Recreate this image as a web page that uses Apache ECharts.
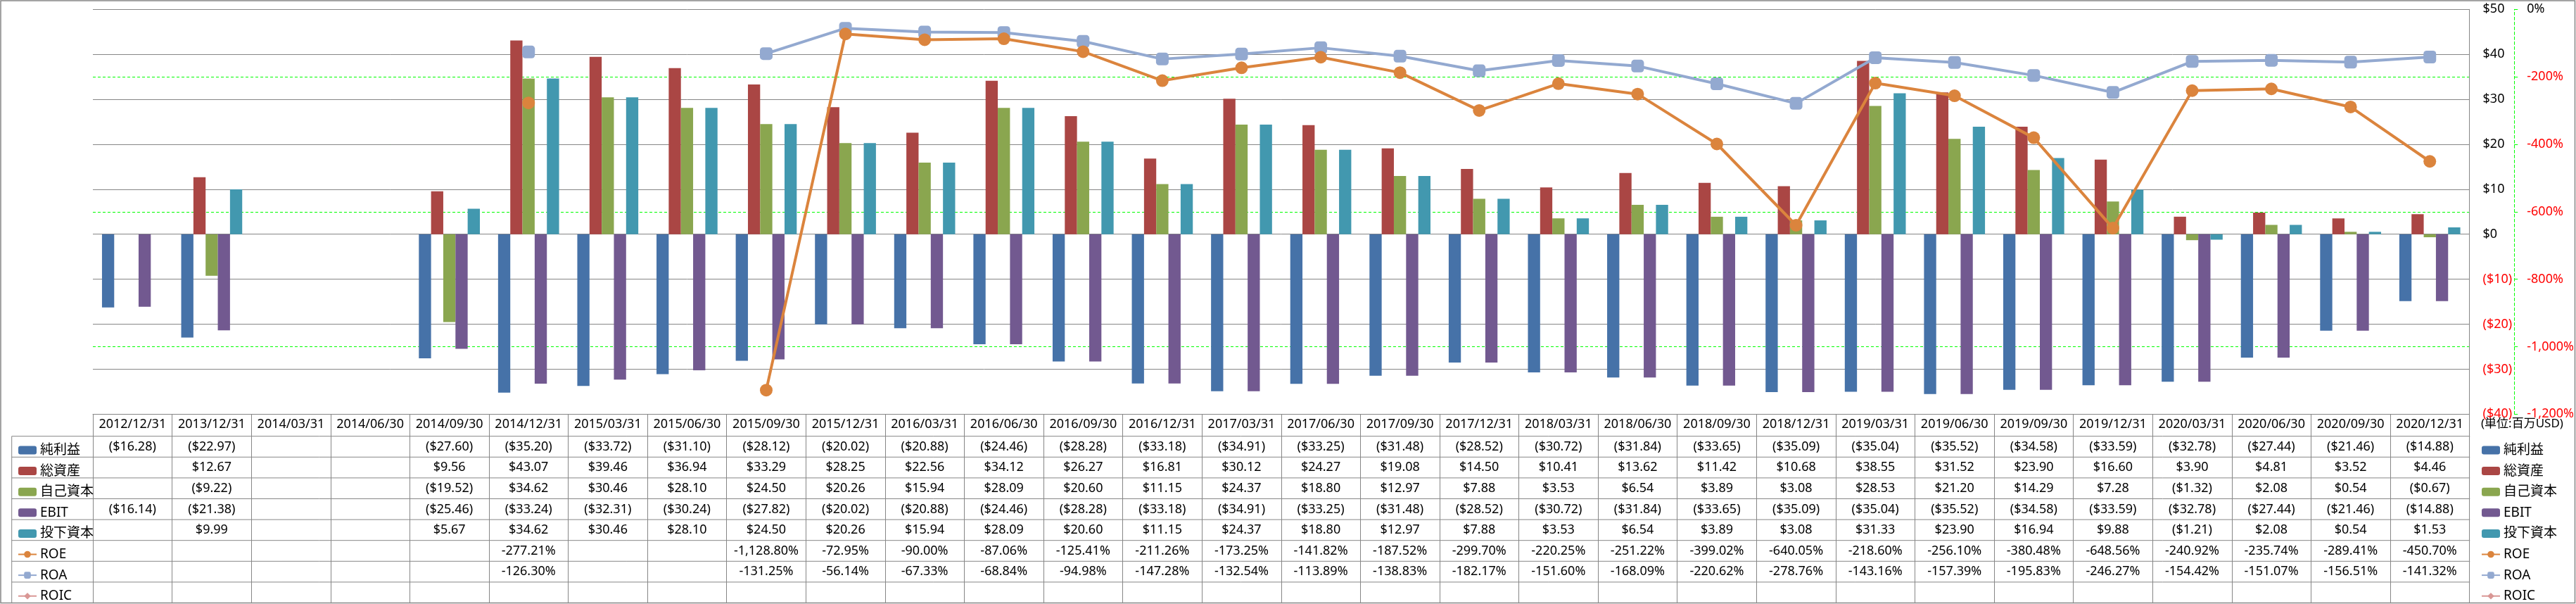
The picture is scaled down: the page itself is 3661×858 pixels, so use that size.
<!DOCTYPE html>
<html><head><meta charset="utf-8">
<script src="https://cdn.jsdelivr.net/npm/echarts@6/dist/echarts.min.js"></script>
<style>html,body{margin:0;padding:0;background:#fff}#c{width:3661px;height:858px}</style>
</head><body><div id="c"></div>
<script>
// ---------- DATA ----------
const categories = ['2012/12/31','2013/12/31','2014/03/31','2014/06/30','2014/09/30','2014/12/31','2015/03/31','2015/06/30','2015/09/30','2015/12/31','2016/03/31','2016/06/30','2016/09/30','2016/12/31','2017/03/31','2017/06/30','2017/09/30','2017/12/31','2018/03/31','2018/06/30','2018/09/30','2018/12/31','2019/03/31','2019/06/30','2019/09/30','2019/12/31','2020/03/31','2020/06/30','2020/09/30','2020/12/31'];
const netIncome = [-16.28,-22.97,null,null,-27.60,-35.20,-33.72,-31.10,-28.12,-20.02,-20.88,-24.46,-28.28,-33.18,-34.91,-33.25,-31.48,-28.52,-30.72,-31.84,-33.65,-35.09,-35.04,-35.52,-34.58,-33.59,-32.78,-27.44,-21.46,-14.88];
const totalAssets = [null,12.67,null,null,9.56,43.07,39.46,36.94,33.29,28.25,22.56,34.12,26.27,16.81,30.12,24.27,19.08,14.50,10.41,13.62,11.42,10.68,38.55,31.52,23.90,16.60,3.90,4.81,3.52,4.46];
const equity = [null,-9.22,null,null,-19.52,34.62,30.46,28.10,24.50,20.26,15.94,28.09,20.60,11.15,24.37,18.80,12.97,7.88,3.53,6.54,3.89,3.08,28.53,21.20,14.29,7.28,-1.32,2.08,0.54,-0.67];
const ebit = [-16.14,-21.38,null,null,-25.46,-33.24,-32.31,-30.24,-27.82,-20.02,-20.88,-24.46,-28.28,-33.18,-34.91,-33.25,-31.48,-28.52,-30.72,-31.84,-33.65,-35.09,-35.04,-35.52,-34.58,-33.59,-32.78,-27.44,-21.46,-14.88];
const investedCapital = [null,9.99,null,null,5.67,34.62,30.46,28.10,24.50,20.26,15.94,28.09,20.60,11.15,24.37,18.80,12.97,7.88,3.53,6.54,3.89,3.08,31.33,23.90,16.94,9.88,-1.21,2.08,0.54,1.53];
const roe = [null,null,null,null,null,-277.21,null,null,-1128.80,-72.95,-90.00,-87.06,-125.41,-211.26,-173.25,-141.82,-187.52,-299.70,-220.25,-251.22,-399.02,-640.05,-218.60,-256.10,-380.48,-648.56,-240.92,-235.74,-289.41,-450.70];
const roa = [null,null,null,null,null,-126.30,null,null,-131.25,-56.14,-67.33,-68.84,-94.98,-147.28,-132.54,-113.89,-138.83,-182.17,-151.60,-168.09,-220.62,-278.76,-143.16,-157.39,-195.83,-246.27,-154.42,-151.07,-156.51,-141.32];
const roic = categories.map(() => null);
const seriesNames = ['純利益','総資産','自己資本','EBIT','投下資本','ROE','ROA','ROIC'];
const unitLabel = '(単位:百万USD)';

// ---------- LAYOUT / STYLE ----------
const W = 3661, H = 858;
const G = {left: 132, right: 3510.3, top: 13.3, bottom: 588.3};
const HEADER_H = 31.4, ROW_H = 29.6;
const TABLE_LEFT = 16.7;
const FONT = '"Noto Sans","Noto Sans CJK JP",sans-serif';
const GRAY = '#868686';
const colors = ['#4672A8','#AA4644','#8AA64F','#725990','#4298AF','#DB843D','#93A9D0','#D99795'];

const fix2 = v => {
  const s = Math.abs(v).toFixed(2).split('.');
  s[0] = s[0].replace(/\B(?=(\d{3})+(?!\d))/g, ',');
  return s.join('.');
};
const money = v => v == null ? '' : (v < 0 ? '($' + fix2(v) + ')' : '$' + fix2(v));
const pct = v => v == null ? '' : (v < 0 ? '-' : '') + fix2(v) + '%';
const dash = arr => arr.map(v => v == null ? '-' : v);

const rows = [
  {vals: netIncome, fmt: money},
  {vals: totalAssets, fmt: money},
  {vals: equity, fmt: money},
  {vals: ebit, fmt: money},
  {vals: investedCapital, fmt: money},
  {vals: roe, fmt: pct},
  {vals: roa, fmt: pct},
  {vals: roic, fmt: pct}
];
const rowTops = rows.map((r, i) => G.bottom + HEADER_H + i * ROW_H);

const labelBase = {fontSize: 18, lineHeight: 18, color: '#000', fontFamily: FONT};

const xAxes = [{
  type: 'category', data: categories, position: 'bottom', offset: 0,
  axisLine: {show: true, onZero: false, lineStyle: {color: GRAY, width: 1}},
  axisTick: {show: true, interval: 0, length: H - 1 - G.bottom, lineStyle: {color: GRAY, width: 1}},
  axisLabel: Object.assign({interval: 0, margin: 6}, labelBase),
  splitLine: {show: false}
}];
rows.forEach((r, i) => {
  xAxes.push({
    type: 'category', data: categories, position: 'bottom', offset: rowTops[i] - G.bottom,
    axisLine: {show: false, onZero: false}, axisTick: {show: false},
    axisLabel: Object.assign({interval: 0, margin: 6, formatter: (v, idx) => r.fmt(r.vals[idx])}, labelBase),
    splitLine: {show: false}
  });
});

const legendCommon = {
  type: 'plain', orient: 'vertical', top: rowTops[0] + (ROW_H - 20) / 2, height: 300,
  itemWidth: 26, itemHeight: 12, itemGap: ROW_H - 20,
  selectedMode: false, data: seriesNames,
  textStyle: {fontSize: 19, lineHeight: 20, color: '#000', fontFamily: FONT}
};

const graphics = [
  {type: 'rect', silent: true, shape: {x: 1, y: 1, width: W - 2.5, height: H - 2.5}, style: {fill: 'none', stroke: GRAY, lineWidth: 1.5}},
  {type: 'line', silent: true, shape: {x1: TABLE_LEFT, y1: rowTops[0], x2: TABLE_LEFT, y2: H - 1}, style: {stroke: GRAY, lineWidth: 1}},
  {type: 'text', silent: true, left: 3526, top: G.bottom + 5, style: {text: unitLabel, fontSize: 17, fill: '#000', fontFamily: FONT}}
];
rowTops.forEach(y => graphics.push({type: 'line', silent: true, shape: {x1: TABLE_LEFT, y1: y, x2: G.right, y2: y}, style: {stroke: GRAY, lineWidth: 1}}));

const chart = echarts.init(document.getElementById('c'), null, {renderer: 'canvas'});
chart.setOption({
  animation: false,
  color: colors,
  textStyle: {fontFamily: FONT},
  grid: {left: G.left, right: W - G.right, top: G.top, bottom: H - G.bottom, containLabel: false},
  xAxis: xAxes,
  yAxis: [
    {
      type: 'value', position: 'right', min: -40, max: 50, interval: 10, z: 1,
      axisLine: {show: true, lineStyle: {color: GRAY, width: 1}},
      axisTick: {show: false},
      splitLine: {show: true, lineStyle: {color: GRAY, width: 1}},
      axisLabel: {margin: 19, fontSize: 18, color: '#000', fontFamily: FONT,
        formatter: v => v >= 0 ? '$' + v : '{r|($' + (-v) + ')}',
        rich: {r: {color: '#FF0000', fontSize: 18, fontFamily: FONT}}}
    },
    {
      type: 'value', position: 'right', offset: 63.7, min: -1200, max: 0, interval: 200, z: 0,
      axisLine: {show: true, lineStyle: {color: '#00FF00', width: 1, type: [4, 3]}},
      axisTick: {show: true, length: 5, lineStyle: {color: '#00FF00', width: 1}},
      splitLine: {show: true, lineStyle: {color: '#00FF00', width: 1, type: [4, 3]}},
      axisLabel: {margin: 18, fontSize: 18, color: '#000', fontFamily: FONT,
        formatter: v => v === 0 ? '0%' : '{r|-' + Math.abs(v).toLocaleString('en-US') + '%}',
        rich: {r: {color: '#FF0000', fontSize: 18, fontFamily: FONT}}}
    }
  ],
  legend: [
    Object.assign({left: 20}, legendCommon),
    Object.assign({left: 3521}, legendCommon)
  ],
  series: [
    {name: seriesNames[0], type: 'bar', data: dash(netIncome), barGap: '0%', barCategoryGap: '23%'},
    {name: seriesNames[1], type: 'bar', data: dash(totalAssets)},
    {name: seriesNames[2], type: 'bar', data: dash(equity)},
    {name: seriesNames[3], type: 'bar', data: dash(ebit)},
    {name: seriesNames[4], type: 'bar', data: dash(investedCapital)},
    {name: seriesNames[5], type: 'line', yAxisIndex: 1, data: dash(roe), symbol: 'circle', symbolSize: 18, lineStyle: {width: 4}, z: 5},
    {name: seriesNames[6], type: 'line', yAxisIndex: 1, data: dash(roa), symbol: 'roundRect', symbolSize: 18, lineStyle: {width: 4}, z: 4},
    {name: seriesNames[7], type: 'line', yAxisIndex: 1, data: dash(roic), symbol: 'diamond', symbolSize: 18, lineStyle: {width: 4}, z: 3}
  ],
  graphic: graphics
});
</script>
</body></html>
